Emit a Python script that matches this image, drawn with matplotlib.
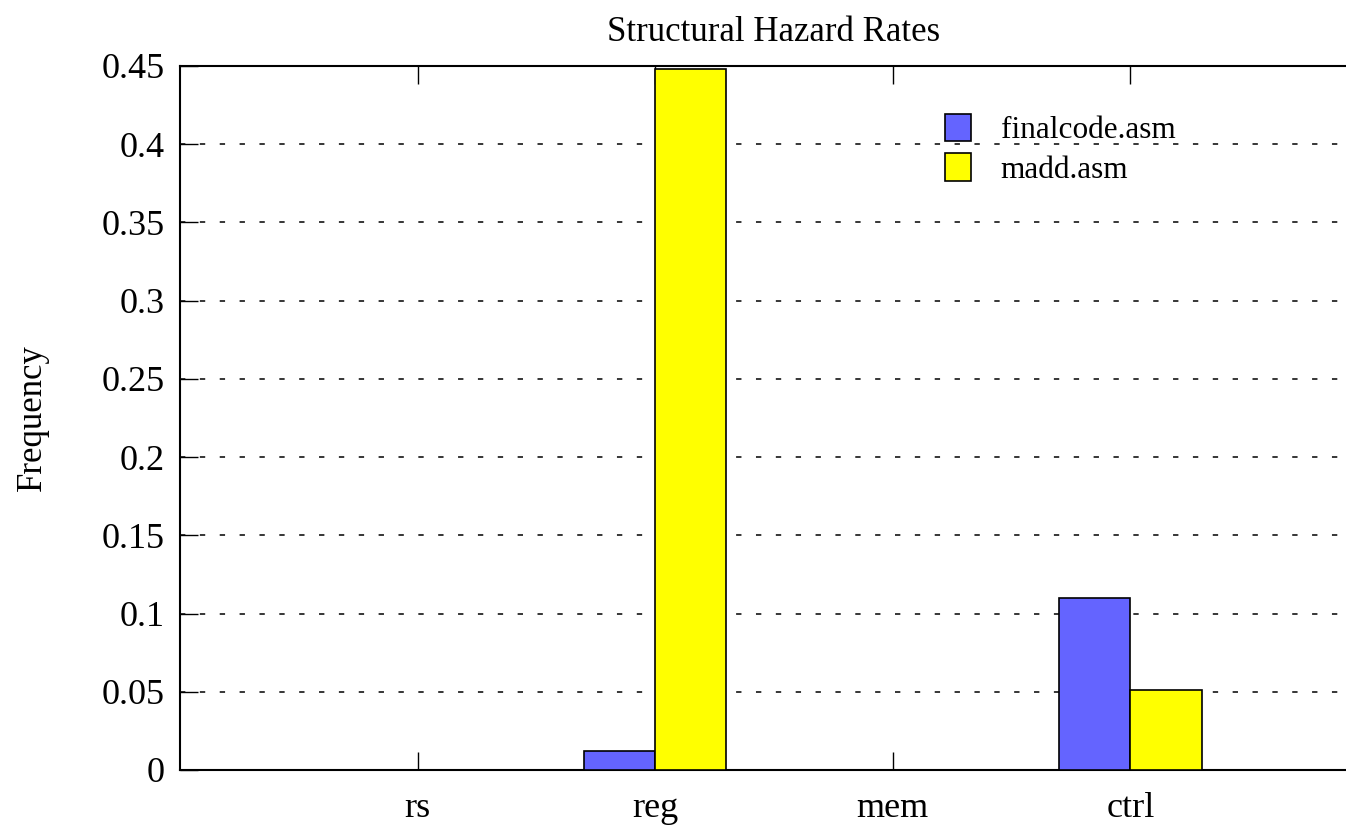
import numpy as np
import matplotlib.pyplot as plt

categories = ["rs", "reg", "mem", "ctrl"]
finalcode = [0.0, 0.012, 0.0, 0.110]
madd = [0.0, 0.448, 0.0, 0.051]

plt.rcParams["font.family"] = ["Liberation Serif", "DejaVu Serif"]

fig = plt.figure(figsize=(13.46, 8.25), dpi=100)
ax = fig.add_axes([180 / 1346, 1 - 770 / 825, (1368 - 180) / 1346, (770 - 66) / 825])

x = np.arange(len(categories))
w = 0.3
ax.bar(x - w / 2, finalcode, w, color="#6464ff", edgecolor="black", linewidth=1.2,
       label="finalcode.asm", zorder=3)
ax.bar(x + w / 2, madd, w, color="#ffff00", edgecolor="black", linewidth=1.2,
       label="madd.asm", zorder=3)

ax.set_xlim(-1, 4)
ax.set_ylim(0, 0.45)
ax.set_xticks(x)
ax.set_xticklabels(categories)
yt = np.arange(0, 0.451, 0.05)
ax.set_yticks(yt)
ax.set_yticklabels(["0", "0.05", "0.1", "0.15", "0.2", "0.25", "0.3", "0.35", "0.4", "0.45"])
ax.tick_params(direction="in", length=13, width=1, labelsize=26, top=True, right=True)
ax.tick_params(axis="y", pad=11)
ax.tick_params(axis="x", pad=16)
ax.yaxis.grid(True, color="black", linestyle=(0, (3.5, 9.5)), linewidth=1.1)
for s in ax.spines.values():
    s.set_linewidth(1.5)

ax.set_title("Structural Hazard Rates", fontsize=25, pad=18)
ax.set_ylabel("Frequency", fontsize=25, labelpad=38)

ax.legend(loc="upper left", bbox_to_anchor=((932 - 180) / 1188, 1 - (101 - 66) / 704),
          frameon=False, fontsize=22.5, handlelength=0.85, handleheight=1.0,
          handletextpad=0.95, labelspacing=0.25, borderaxespad=0)

fig.savefig("out.png", dpi=100)
